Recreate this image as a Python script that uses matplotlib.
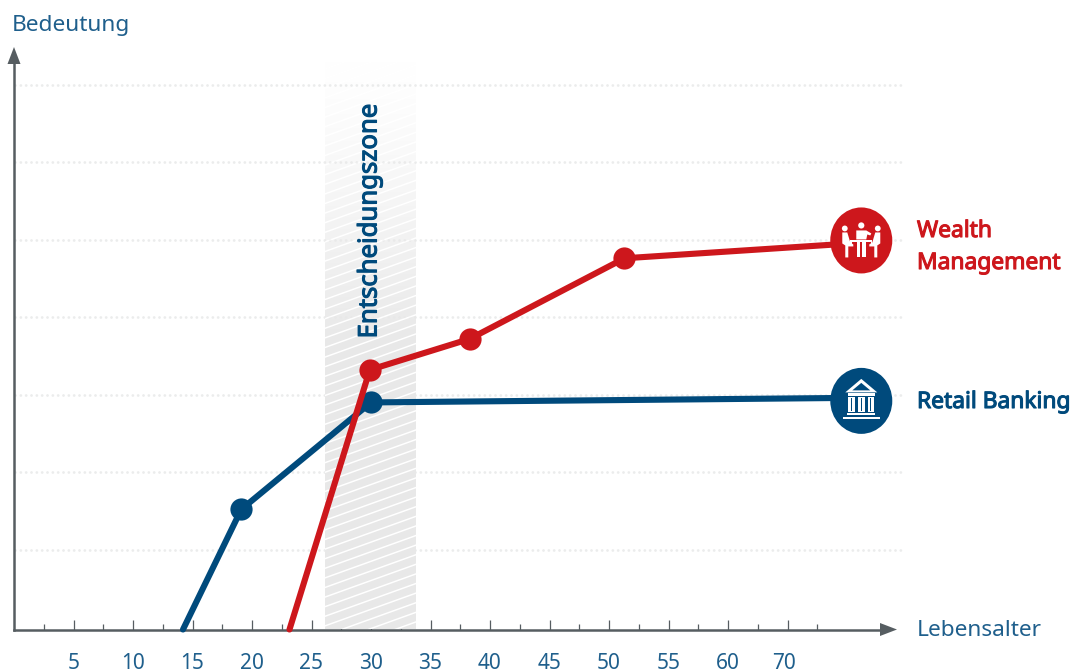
import numpy as np
import matplotlib
matplotlib.use("Agg")
import matplotlib.pyplot as plt
import matplotlib.patheffects as pe
from matplotlib.patches import Circle, Ellipse, Polygon, Rectangle
from matplotlib.transforms import Affine2D, ScaledTranslation

W, H = 1075, 672
BLUE = "#004a7c"
RED = "#cd171c"
AXIS = "#565d61"
TEXT = "#1f5f8c"
GRID = "#ebecec"

# Data
tick_pos = [5, 10, 15, 20, 25, 30, 35, 40, 45, 50, 55, 60, 65]
tick_labels = ["5", "10", "15", "20", "25", "30", "35", "40", "45", "50", "55", "60", "70"]
minor_pos = [2.5, 7.5, 12.5, 17.5, 22.5, 27.5, 32.5, 37.5, 42.5, 47.5, 52.5, 57.5, 62.5, 67.5]
grid_levels = [1.03, 2.03, 3.03, 4.03, 5.03, 6.03, 7.03]
zone_age = [26.1, 33.67]
retail_age = [14.2, 19.1, 30.0, 71.2]
retail_val = [0, 1.55, 2.93, 2.99]
wealth_age = [23.15, 29.9, 38.3, 51.3, 71.2]
wealth_val = [0, 3.35, 3.75, 4.79, 4.99]
badge_age = 71.2
retail_badge = 2.95
wealth_badge = 5.02

# scale of the picture: 11.9 px per year, 77.5 px per grid step
PX, PY = 11.9, 77.5
X0, Y0 = 14, 629.5

plt.rcParams["font.family"] = ["Noto Sans", "DejaVu Sans"]
fig = plt.figure(figsize=(W / 100, H / 100), dpi=100)
ax = fig.add_axes([0, 0, 1, 1])
xlim = (-X0 / PX, (W - X0) / PX)
ylim = ((Y0 - H) / PY, Y0 / PY)
ax.patch.set_visible(False)


def px(x, y):
    return (x - X0) / PX, (Y0 - y) / PY


# dotted grid
for level in grid_levels:
    ax.plot([0.1, (902 - X0) / PX], [level, level], color=GRID, lw=2, ls=(0, (0.02, 1.9)),
            dash_capstyle="round", zorder=2)

# decision zone: grey fading upwards with thin white diagonal stripes on top of the grid
yy, xx = np.mgrid[0:575, 0:91]
fade = np.clip((yy - 5) / 290, 0, 1) ** 1.2
phase = (xx * 0.36 + yy) % 9.6
stripe = np.clip(1.3 - np.abs(phase - 4.8), 0, 1)
grey = np.zeros(yy.shape + (4,))
grey[..., :3] = (0.91 + 0.09 * stripe)[..., None]
grey[..., 3] = fade
ax.imshow(grey, extent=[zone_age[0], zone_age[1], 0, 575 / PY], aspect="auto",
          origin="upper", zorder=3, interpolation="nearest")
ax.set_xlim(*xlim)
ax.set_ylim(*ylim)

# axes
for side in ["top", "right"]:
    ax.spines[side].set_visible(False)
ax.spines["left"].set_position(("data", 0))
ax.spines["bottom"].set_position(("data", 0))
ax.spines["left"].set_bounds(0, (Y0 - 60) / PY)
ax.spines["bottom"].set_bounds(0, (885 - X0) / PX)
for side in ["left", "bottom"]:
    ax.spines[side].set_color(AXIS)
    ax.spines[side].set_linewidth(1.8)
    ax.spines[side].set_zorder(4)
ax.set_yticks([])
ax.set_xticks(tick_pos)
ax.set_xticklabels(tick_labels, fontsize=15, color=TEXT)
ax.set_xticks(minor_pos, minor=True)
ax.tick_params(axis="x", which="major", direction="in", length=7.5, width=0.9, color=AXIS, pad=17)
ax.tick_params(axis="x", which="minor", direction="in", length=4, width=0.9, color=AXIS)
last = ax.get_xticklabels()[-1]
last.set_transform(last.get_transform() + ScaledTranslation(-3.5 / 100, 0, fig.dpi_scale_trans))
ax.add_patch(Polygon([px(14, 47), px(7.5, 64), px(20.5, 64)], closed=True, color=AXIS, zorder=4, lw=0))
ax.add_patch(Polygon([px(897, 629.5), px(880, 623), px(880, 636)], closed=True, color=AXIS, zorder=4, lw=0))

# series
ax.plot(retail_age, retail_val, color=BLUE, lw=4.4, solid_capstyle="round", zorder=5)
ax.plot(retail_age[1:3], retail_val[1:3], "o", color=BLUE, ms=16, mew=0, zorder=5)
ax.add_patch(Ellipse((badge_age, retail_badge), 62 / PX, 66 / PY, fc=BLUE, lw=0, zorder=5))
ax.plot(wealth_age, wealth_val, color=RED, lw=4.4, solid_capstyle="round", zorder=6)
ax.plot(wealth_age[1:4], wealth_val[1:4], "o", color=RED, ms=16, mew=0, zorder=7)
ax.add_patch(Ellipse((badge_age, wealth_badge), 62 / PX, 66 / PY, fc=RED, lw=0, zorder=7))


def icon_transform(age, val):
    cx, cy = ax.transData.transform((age, val))
    return Affine2D().translate(cx, cy)


# bank icon, coordinates in pixels around the circle centre
t = icon_transform(badge_age, retail_badge)
bank = [
    Polygon([(0, 22), (-16, 8.5), (16, 8.5)], closed=True, fc="white", lw=0),
    Polygon([(0, 18), (-9, 10.5), (9, 10.5)], closed=True, fc=BLUE, lw=0),
    Rectangle((-13.5, 4.5), 27, 3, fc="white", lw=0),
    Rectangle((-13, -11), 6.5, 15, fc="white", lw=0),
    Rectangle((-3.2, -11), 6.5, 15, fc="white", lw=0),
    Rectangle((6.5, -11), 6.5, 15, fc="white", lw=0),
    Rectangle((-14, -14.5), 28, 2.2, fc="white", lw=0),
    Rectangle((-18.5, -18.5), 37, 2.6, fc="white", lw=0),
]
for p in bank:
    p.set_transform(t)
    p.set_zorder(8)
    ax.add_patch(p)
for dx in [-9.7, 0, 9.7]:
    ax.add_patch(Rectangle((dx - 0.5, -10), 1, 13, fc=BLUE, lw=0, transform=t, zorder=9))

# meeting icon
t = icon_transform(badge_age, wealth_badge)
meeting = [
    Circle((-16.5, 12), 2.9, fc="white", lw=0),
    Circle((0, 15), 3.1, fc="white", lw=0),
    Circle((16.5, 12), 2.9, fc="white", lw=0),
    Polygon([(-19, 8), (-14, 8), (-11, -2), (-8, -4), (-8, -6), (-13, -6), (-13, -17), (-16, -17), (-16, -5), (-19, -3)],
            closed=True, fc="white", lw=0),
    Polygon([(19, 8), (14, 8), (11, -2), (8, -4), (8, -6), (13, -6), (13, -17), (16, -17), (16, -5), (19, -3)],
            closed=True, fc="white", lw=0),
    Polygon([(-5, 10), (5, 10), (10, 7), (9, 5), (6, 6), (5, 1), (-5, 1)], closed=True, fc="white", lw=0),
    Rectangle((-11, -1.5), 22, 2, fc="white", lw=0),
    Rectangle((-11, -3.5), 1.5, 3, fc="white", lw=0),
    Rectangle((9.5, -3.5), 1.5, 3, fc="white", lw=0),
    Rectangle((-4.5, -17), 3.6, 15, fc="white", lw=0),
    Rectangle((0.9, -17), 3.6, 15, fc="white", lw=0),
]
for p in meeting:
    p.set_transform(t)
    p.set_zorder(8)
    ax.add_patch(p)


# Noto Sans comes without a bold cut here, so thicken the strokes a little
def bold_label(x, y, s, color, size, **kw):
    txt = ax.text(*px(x, y), s, fontsize=size, color=color, va="center", **kw)
    txt.set_path_effects([pe.withStroke(linewidth=0.8, foreground=color)])


ax.text(*px(12, 26), "Bedeutung", fontsize=16.3, color=TEXT, ha="left", va="center")
ax.text(*px(917, 631), "Lebensalter", fontsize=16.3, color=TEXT, ha="left", va="center")
bold_label(370, 221.5, "Entscheidungszone", BLUE, 18.5, rotation=90, ha="center", zorder=6)
bold_label(917, 231, "Wealth", RED, 16.4, ha="left")
bold_label(917, 263, "Management", RED, 16.4, ha="left")
bold_label(917, 402, "Retail Banking", BLUE, 16.4, ha="left")

fig.savefig("out.png", dpi=100)
